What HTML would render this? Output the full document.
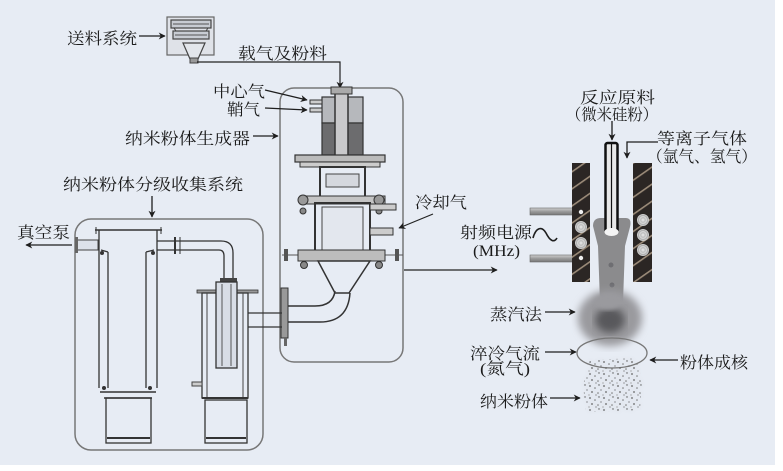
<!DOCTYPE html>
<html><head><meta charset="utf-8">
<style>
html,body{margin:0;padding:0;background:#fff;}
svg{display:block;}
text{font-family:"Liberation Serif","Noto Serif CJK SC","Noto Sans CJK SC",serif;fill:#1a1a1a;font-size:16px;}
</style></head>
<body>
<svg width="783" height="471" viewBox="0 0 783 471" xmlns="http://www.w3.org/2000/svg">
<defs>
<marker id="ah" viewBox="0 0 10 10" refX="9" refY="5" markerWidth="7" markerHeight="7" markerUnits="userSpaceOnUse" orient="auto">
<path d="M0,0 L10,5 L0,10 L3,5 Z" fill="#1e1e1e"/>
</marker>
<pattern id="stripe" width="14" height="14" patternUnits="userSpaceOnUse" patternTransform="rotate(-35)">
<rect width="14" height="14" fill="#2b2624"/>
<rect width="14" height="1.6" y="6" fill="#9a8a78"/>
</pattern>
<pattern id="dots" width="14" height="12" patternUnits="userSpaceOnUse">
<circle cx="2" cy="2" r="0.9" fill="#666"/><circle cx="7" cy="4" r="0.8" fill="#777"/>
<circle cx="11" cy="1" r="0.7" fill="#555"/><circle cx="4" cy="8" r="0.9" fill="#666"/>
<circle cx="10" cy="9" r="0.8" fill="#777"/><circle cx="13" cy="6" r="0.6" fill="#555"/>
<circle cx="1" cy="11" r="0.6" fill="#888"/><circle cx="8" cy="11" r="0.6" fill="#666"/>
</pattern>
<filter id="blur4"><feGaussianBlur stdDeviation="4"/></filter>
<filter id="blur2"><feGaussianBlur stdDeviation="2"/></filter>
<linearGradient id="bar" x1="0" y1="0" x2="0" y2="1">
<stop offset="0" stop-color="#d0d0d0"/><stop offset="0.5" stop-color="#9a9a9a"/><stop offset="1" stop-color="#777"/>
</linearGradient>
<radialGradient id="coilc"><stop offset="0" stop-color="#eee"/><stop offset="0.45" stop-color="#bbb"/><stop offset="0.6" stop-color="#ddd"/><stop offset="1" stop-color="#888"/></radialGradient>
</defs>

<rect x="0" y="0" width="775" height="465" fill="#e7ecf4"/>

<!-- ===== Feeder ===== -->
<rect x="167" y="17" width="47" height="38" fill="#dfe2e8" stroke="#666" stroke-width="1.2"/>
<rect x="171" y="20" width="40" height="8" fill="#c8ccd3" stroke="#444" stroke-width="1.2"/>
<line x1="173" y1="24" x2="209" y2="24" stroke="#555"/>
<rect x="173" y="31" width="36" height="8" fill="#c8ccd3" stroke="#444" stroke-width="1.2"/>
<line x1="175" y1="35" x2="207" y2="35" stroke="#555"/>
<line x1="174" y1="28" x2="176" y2="31" stroke="#444"/><line x1="208" y1="28" x2="206" y2="31" stroke="#444"/>
<polygon points="183,43 205,43 198,59 190,59" fill="#e3e6eb" stroke="#444" stroke-width="1.2"/>
<rect x="190" y="58" width="8" height="5" fill="#999" stroke="#444"/>
<polyline points="197,62 340,62 340,88" fill="none" stroke="#222" stroke-width="1.2" marker-end="url(#ah)"/>

<!-- ===== Generator box ===== -->
<rect x="280" y="88" width="123" height="274" rx="14" fill="none" stroke="#777" stroke-width="1.5"/>
<rect x="322" y="97" width="41" height="26" fill="#b6b8bc" stroke="#333" stroke-width="1.2"/>
<rect x="322" y="123" width="41" height="32" fill="#6c6c6e" stroke="#333" stroke-width="1.2"/>
<rect x="335" y="92" width="13" height="66" fill="#c9c9cb" stroke="#333" stroke-width="1.5"/>
<rect x="331" y="87" width="21" height="7" fill="#aaa" stroke="#333"/>
<rect x="310" y="100" width="12" height="4" fill="#ccc" stroke="#333"/>
<rect x="310" y="108" width="12" height="4" fill="#ccc" stroke="#333"/>
<rect x="295" y="155" width="90" height="7" fill="#bbb" stroke="#333" stroke-width="1.2"/>
<rect x="300" y="162" width="80" height="5" fill="#ccc" stroke="#333"/>
<rect x="320" y="167" width="45" height="35" fill="none" stroke="#333" stroke-width="2"/>
<rect x="326" y="174" width="33" height="13" fill="#d5d8de" stroke="#444"/>
<rect x="300" y="196" width="85" height="8" fill="#c4c4c4" stroke="#333"/>
<circle cx="303" cy="200" r="5" fill="#999" stroke="#333"/>
<circle cx="379" cy="200" r="5" fill="#999" stroke="#333"/>
<circle cx="303" cy="211" r="3" fill="#888" stroke="#333"/>
<circle cx="379" cy="211" r="3" fill="#888" stroke="#333"/>
<rect x="315" y="203" width="55" height="55" fill="none" stroke="#333" stroke-width="2"/>
<rect x="322" y="207" width="41" height="45" fill="#e3e7ee" stroke="#444"/>
<rect x="370" y="204" width="26" height="6" fill="#ccc" stroke="#333"/>
<rect x="370" y="228" width="23" height="7" fill="#ccc" stroke="#333"/>
<line x1="282" y1="255" x2="403" y2="255" stroke="#555"/>
<rect x="298" y="250" width="87" height="11" fill="#bdbdbd" stroke="#333"/>
<circle cx="304" cy="265" r="3.5" fill="#888" stroke="#333"/>
<circle cx="379" cy="265" r="3.5" fill="#888" stroke="#333"/>
<rect x="284" y="249" width="4" height="12" fill="#555"/>
<rect x="395" y="249" width="4" height="12" fill="#555"/>
<polygon points="318,261 370,261 349,293 335,293" fill="none" stroke="#333" stroke-width="1.5"/>
<path d="M335 291 Q333 306 315 306 L288 306" fill="none" stroke="#333" stroke-width="1.5"/>
<path d="M350 293 Q348 322 320 322 L288 322" fill="none" stroke="#333" stroke-width="1.5"/>
<rect x="281" y="288" width="7" height="50" fill="#999" stroke="#333"/>
<rect x="284" y="338" width="3" height="8" fill="#666"/>
<line x1="433" y1="214" x2="399" y2="228" stroke="#222" stroke-width="1.2" marker-end="url(#ah)"/>
<line x1="404" y1="270" x2="497" y2="270" stroke="#222" stroke-width="1.2" marker-end="url(#ah)"/>

<!-- ===== Collection box ===== -->
<rect x="75" y="219" width="188" height="231" rx="16" fill="none" stroke="#777" stroke-width="1.5"/>
<rect x="76" y="240" width="22" height="10" fill="#dde2ea" stroke="#444"/>
<rect x="75" y="237" width="3" height="16" fill="#666"/>
<line x1="95" y1="230" x2="162" y2="230" stroke="#333" stroke-width="1.5"/>
<line x1="96" y1="227" x2="96" y2="234" stroke="#333"/><line x1="161" y1="227" x2="161" y2="234" stroke="#333"/>
<path d="M99 230 L99 388 M108 252 L108 388 M101 250 L108 252" fill="none" stroke="#333" stroke-width="1.3"/>
<path d="M157 230 L157 388 M146 252 L146 388 M154 250 L146 252" fill="none" stroke="#333" stroke-width="1.3"/>
<circle cx="102" cy="253" r="2" fill="#333"/><circle cx="153" cy="253" r="2" fill="#333"/>
<circle cx="104" cy="388" r="2" fill="#333"/><circle cx="150" cy="388" r="2" fill="#333"/>
<line x1="100" y1="392" x2="156" y2="392" stroke="#333" stroke-width="1.5"/>
<line x1="104" y1="398" x2="152" y2="398" stroke="#333" stroke-width="1.5"/>
<rect x="106" y="398" width="45" height="45" fill="none" stroke="#333" stroke-width="1.3"/>
<line x1="107" y1="438" x2="150" y2="438" stroke="#333" stroke-width="2"/>
<path d="M157 241 L221 241 Q233 241 233 253 L233 280" fill="none" stroke="#333" stroke-width="1.3"/>
<path d="M157 250 L219 250 Q224 250 224 256 L224 280" fill="none" stroke="#333" stroke-width="1.3"/>
<line x1="175" y1="237" x2="175" y2="254" stroke="#333" stroke-width="2"/>
<line x1="180" y1="237" x2="180" y2="254" stroke="#333" stroke-width="1"/>
<rect x="220" y="278" width="17" height="4" fill="#444"/>
<rect x="197" y="290" width="61" height="3" fill="#999" stroke="#333" stroke-width="0.8"/>
<rect x="202" y="293" width="46" height="105" fill="none" stroke="#333" stroke-width="1.3"/>
<line x1="207" y1="293" x2="207" y2="398" stroke="#444"/>
<line x1="243" y1="293" x2="243" y2="398" stroke="#444"/>
<rect x="216" y="282" width="21" height="86" fill="#d8dde6" stroke="#333" stroke-width="1.3"/>
<line x1="222" y1="284" x2="222" y2="366" stroke="#555"/>
<line x1="231" y1="284" x2="231" y2="366" stroke="#555"/>
<rect x="192" y="382" width="10" height="4" fill="#ccc" stroke="#444"/>
<line x1="202" y1="398" x2="248" y2="398" stroke="#333" stroke-width="2"/>
<rect x="205" y="400" width="42" height="43" fill="none" stroke="#333" stroke-width="1.3"/>
<line x1="206" y1="438" x2="246" y2="438" stroke="#333" stroke-width="2"/>
<line x1="248" y1="313" x2="282" y2="313" stroke="#333" stroke-width="1.3"/>
<line x1="248" y1="327" x2="282" y2="327" stroke="#333" stroke-width="1.3"/>

<!-- ===== Right panel: plasma torch ===== -->
<rect x="530" y="208" width="53" height="7" fill="url(#bar)" stroke="#666" stroke-width="0.6"/>
<rect x="530" y="255" width="53" height="7" fill="url(#bar)" stroke="#666" stroke-width="0.6"/>
<rect x="572" y="163" width="18" height="119" fill="url(#stripe)"/>
<rect x="633" y="163" width="19" height="119" fill="url(#stripe)"/>
<circle cx="581" cy="212" r="2.2" fill="#eee"/><circle cx="581" cy="258" r="2.2" fill="#eee"/>
<circle cx="581" cy="227" r="5.5" fill="url(#coilc)" stroke="#ccc"/>
<circle cx="581" cy="243" r="5.5" fill="url(#coilc)" stroke="#ccc"/>
<circle cx="643" cy="220" r="5.5" fill="url(#coilc)" stroke="#ccc"/>
<circle cx="643" cy="235" r="5.5" fill="url(#coilc)" stroke="#ccc"/>
<circle cx="643" cy="250" r="5.5" fill="url(#coilc)" stroke="#ccc"/>
<path d="M593 226 Q593 218 601 218 L626 218 Q632 218 630 227 L625 246 L623 302 L600 302 L598 246 Z" fill="#8b8b8d"/>
<circle cx="611" cy="265" r="2.5" fill="#6e6e72"/><circle cx="612" cy="285" r="2.5" fill="#6e6e72"/>
<ellipse cx="610" cy="318" rx="32" ry="28" fill="#9a9a9e" filter="url(#blur4)"/>
<ellipse cx="610" cy="320" rx="15" ry="13" fill="#58585c" filter="url(#blur4)"/>
<ellipse cx="608" cy="302" rx="14" ry="8" fill="#9a9a9e" filter="url(#blur2)"/>
<rect x="605.5" y="143" width="12" height="89" rx="2" fill="#e8e8e8" stroke="#111" stroke-width="2.5"/>
<line x1="611.5" y1="144" x2="611.5" y2="228" stroke="#111" stroke-width="1.2"/>
<ellipse cx="611.5" cy="232" rx="7" ry="4" fill="#f4f4f4"/>
<ellipse cx="612" cy="353" rx="35" ry="15" fill="none" stroke="#777" stroke-width="1.3"/>
<path d="M590 360 L636 358 L642 380 L640 410 L586 412 L583 385 Z" fill="url(#dots)" filter="url(#blur2)" opacity="0.35"/>
<path d="M590 360 L636 358 L642 380 L640 410 L586 412 L583 385 Z" fill="url(#dots)"/>

<!-- ===== Arrows ===== -->
<g stroke="#1e1e1e" stroke-width="1.3" fill="none">
<line x1="139" y1="36" x2="165" y2="36" marker-end="url(#ah)"/>
<line x1="265" y1="90" x2="307" y2="100" marker-end="url(#ah)"/>
<line x1="265" y1="108" x2="307" y2="110" marker-end="url(#ah)"/>
<line x1="253" y1="136" x2="278" y2="136" marker-end="url(#ah)"/>
<line x1="152" y1="196" x2="152" y2="217" marker-end="url(#ah)"/>
<line x1="72" y1="245" x2="26" y2="245" marker-end="url(#ah)"/>
<line x1="612" y1="121" x2="612" y2="140" marker-end="url(#ah)"/>
<polyline points="658,142 627,142 627,158" marker-end="url(#ah)"/>
<line x1="545" y1="312" x2="575" y2="312" marker-end="url(#ah)"/>
<line x1="545" y1="352" x2="576" y2="352" marker-end="url(#ah)"/>
<line x1="678" y1="360" x2="650" y2="360" marker-end="url(#ah)"/>
<line x1="550" y1="398" x2="580" y2="398" marker-end="url(#ah)"/>
<path d="M533 238 C536 227 542 226 546 233 C550 241 554 243 557 238" stroke-width="1.6"/>
</g>

<!-- ===== Labels ===== -->
<text x="67" y="44" textLength="70" lengthAdjust="spacingAndGlyphs">送料系统</text>
<text x="238" y="59" textLength="89" lengthAdjust="spacingAndGlyphs">载气及粉料</text>
<text x="213" y="97" textLength="52" lengthAdjust="spacingAndGlyphs">中心气</text>
<text x="227" y="115" textLength="33" lengthAdjust="spacingAndGlyphs">鞘气</text>
<text x="125" y="144" textLength="125" lengthAdjust="spacingAndGlyphs">纳米粉体生成器</text>
<text x="63" y="190" textLength="180" lengthAdjust="spacingAndGlyphs">纳米粉体分级收集系统</text>
<text x="17" y="238" textLength="53" lengthAdjust="spacingAndGlyphs">真空泵</text>
<text x="415" y="208" textLength="52" lengthAdjust="spacingAndGlyphs">冷却气</text>
<text x="580" y="103" textLength="75" lengthAdjust="spacingAndGlyphs">反应原料</text>
<text x="566" y="120" textLength="92" lengthAdjust="spacingAndGlyphs">（微米硅粉）</text>
<text x="657" y="144" textLength="90" lengthAdjust="spacingAndGlyphs">等离子气体</text>
<text x="647" y="162" textLength="110" lengthAdjust="spacingAndGlyphs">（氩气、氢气）</text>
<text x="460" y="238" textLength="72" lengthAdjust="spacingAndGlyphs">射频电源</text>
<text x="473" y="256" textLength="47" lengthAdjust="spacingAndGlyphs">(MHz)</text>
<text x="490" y="320" textLength="52" lengthAdjust="spacingAndGlyphs">蒸汽法</text>
<text x="470" y="359" textLength="70" lengthAdjust="spacingAndGlyphs">淬冷气流</text>
<text x="480" y="374" textLength="50" lengthAdjust="spacingAndGlyphs">(氮气)</text>
<text x="680" y="368" textLength="68" lengthAdjust="spacingAndGlyphs">粉体成核</text>
<text x="480" y="407" textLength="68" lengthAdjust="spacingAndGlyphs">纳米粉体</text>
</svg>
</body></html>
